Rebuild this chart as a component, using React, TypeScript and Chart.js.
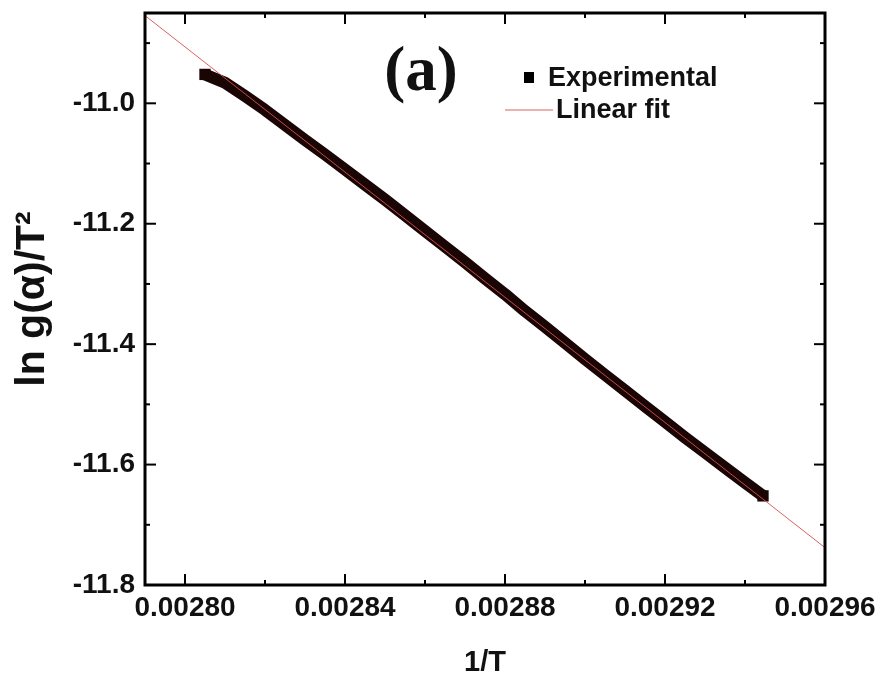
import { useEffect, useRef } from 'react';
import { Chart, registerables } from 'chart.js';
Chart.register(...registerables);

// Experimental data: 1/T and ln g(alpha)/T^2
const X_EXP = [
  0.002805, 0.00281, 0.002815, 0.00282, 0.002825, 0.00283, 0.002835, 0.00284,
  0.002845, 0.00285, 0.002855, 0.00286, 0.002865, 0.00287, 0.002875, 0.00288,
  0.002885, 0.00289, 0.002895, 0.0029, 0.002905, 0.00291, 0.002915, 0.00292,
  0.002925, 0.00293, 0.002935, 0.00294, 0.0029445,
];
const Y_EXP = [
  -10.952, -10.966, -10.988, -11.011, -11.036, -11.061, -11.085, -11.11,
  -11.135, -11.16, -11.186, -11.212, -11.238, -11.264, -11.291, -11.317,
  -11.345, -11.371, -11.398, -11.425, -11.451, -11.477, -11.503, -11.529,
  -11.555, -11.58, -11.605, -11.63, -11.652,
];
// Linear fit end points
const X_FIT = [0.00279, 0.00296];
const Y_FIT = [-10.8543, -11.738];

const X_TICKS = [0.0028, 0.00284, 0.00288, 0.00292, 0.00296];
const X_MINOR = [0.00282, 0.00286, 0.0029, 0.00294];
const Y_TICKS = [-11.8, -11.6, -11.4, -11.2, -11.0];
const Y_MINOR = [-11.7, -11.5, -11.3, -11.1, -10.9];
const X_MIN = 0.00279;
const X_MAX = 0.00296;
const Y_MIN = -11.8;
const Y_MAX = -10.85;

const LEGEND_LABELS = ['Experimental', 'Linear fit'];
const PANEL_LABEL = '(a)';

const BAND = '#1a0505';
const FIT = 'rgba(215,80,80,0.9)';
const SANS = '"Liberation Sans", Arial, sans-serif';

const framePlugin = {
  id: 'frame',
  afterDatasetsDraw(chart: any) {
    const { ctx, chartArea, scales } = chart;
    const { left, right, top, bottom } = chartArea;
    const x = scales.x;
    const y = scales.y;
    ctx.save();
    ctx.strokeStyle = '#000';
    const seg = (x1: number, y1: number, x2: number, y2: number) => {
      ctx.beginPath();
      ctx.moveTo(x1, y1);
      ctx.lineTo(x2, y2);
      ctx.stroke();
    };
    const major = 11;
    const minor = 5;
    ctx.lineWidth = 2;
    X_TICKS.forEach((v) => {
      const p = x.getPixelForValue(v);
      seg(p, bottom, p, bottom - major);
      seg(p, top, p, top + major);
    });
    X_MINOR.forEach((v) => {
      const p = x.getPixelForValue(v);
      seg(p, bottom, p, bottom - minor);
      seg(p, top, p, top + minor);
    });
    Y_TICKS.forEach((v) => {
      const p = y.getPixelForValue(v);
      seg(left, p, left + major, p);
      seg(right, p, right - major, p);
    });
    Y_MINOR.forEach((v) => {
      const p = y.getPixelForValue(v);
      seg(left, p, left + minor, p);
      seg(right, p, right - minor, p);
    });
    ctx.lineWidth = 3;
    ctx.strokeRect(left, top, right - left, bottom - top);

    // panel label
    ctx.fillStyle = '#111';
    ctx.font = 'bold 63px "Liberation Serif", "Times New Roman", serif';
    ctx.textAlign = 'center';
    ctx.textBaseline = 'middle';
    ctx.fillText(PANEL_LABEL, 421, 74);

    // legend
    ctx.fillStyle = '#000';
    ctx.fillRect(524, 72, 10, 11);
    ctx.font = 'bold 27px ' + SANS;
    ctx.textAlign = 'left';
    ctx.fillStyle = '#111';
    ctx.fillText(LEGEND_LABELS[0], 548, 79);
    ctx.strokeStyle = FIT;
    ctx.lineWidth = 1.2;
    seg(505, 110, 553, 110);
    ctx.fillText(LEGEND_LABELS[1], 556, 111);
    ctx.restore();
  },
};

export default function App() {
  const ref = useRef<HTMLCanvasElement | null>(null);
  useEffect(() => {
    if (!ref.current) return;
    const last = X_EXP.length - 1;
    const chart = new Chart(ref.current, {
      type: 'scatter',
      data: {
        datasets: [
          {
            label: LEGEND_LABELS[1],
            data: X_FIT.map((v, i) => ({ x: v, y: Y_FIT[i] })),
            showLine: true,
            borderColor: FIT,
            borderWidth: 1,
            pointRadius: 0,
            order: 1,
          },
          {
            label: LEGEND_LABELS[0],
            data: X_EXP.map((v, i) => ({ x: v, y: Y_EXP[i] })),
            showLine: true,
            borderColor: BAND,
            backgroundColor: BAND,
            borderWidth: 12,
            borderJoinStyle: 'round',
            borderCapStyle: 'butt',
            pointStyle: 'rect',
            pointRadius: (c: any) => (c.dataIndex === 0 || c.dataIndex === last ? 8 : 0),
            pointBorderWidth: 0,
            order: 2,
          },
        ],
      },
      options: {
        responsive: false,
        animation: false,
        events: [],
        layout: { padding: { top: 13, right: 59, bottom: 0, left: 0 } },
        plugins: { legend: { display: false }, tooltip: { enabled: false } },
        scales: {
          x: {
            type: 'linear',
            min: X_MIN,
            max: X_MAX,
            grid: { display: false, drawTicks: false },
            border: { display: false },
            afterBuildTicks: (s: any) => {
              s.ticks = X_TICKS.map((v) => ({ value: v }));
            },
            afterFit: (s: any) => {
              s.height = 95;
              s.paddingLeft = 0;
              s.paddingRight = 0;
            },
            ticks: {
              padding: 6,
              color: '#111',
              font: { family: SANS, size: 28, weight: 'bold' },
              callback: (v: any) => Number(v).toFixed(5),
              maxRotation: 0,
            },
            title: {
              display: true,
              text: '1/T',
              color: '#111',
              font: { family: SANS, size: 29, weight: 'bold' },
              padding: { top: 0, bottom: 0 },
            },
          },
          y: {
            type: 'linear',
            min: Y_MIN,
            max: Y_MAX,
            grid: { display: false, drawTicks: false },
            border: { display: false },
            afterBuildTicks: (s: any) => {
              s.ticks = Y_TICKS.map((v) => ({ value: v }));
            },
            afterFit: (s: any) => {
              s.width = 145;
              s.paddingTop = 0;
              s.paddingBottom = 0;
            },
            ticks: {
              padding: 10,
              color: '#111',
              font: { family: SANS, size: 28, weight: 'bold' },
              callback: (v: any) => Number(v).toFixed(1),
            },
            title: {
              display: true,
              text: 'ln g(α)/T²',
              color: '#111',
              font: { family: SANS, size: 41, weight: 'bold' },
              padding: { top: 8, bottom: 0 },
            },
          },
        },
      },
      plugins: [framePlugin],
    });
    return () => chart.destroy();
  }, []);
  return (
    <div style={{ position: 'absolute', left: 0, top: 0, width: 884, height: 680, background: '#fff' }}>
      <canvas ref={ref} width={884} height={680} />
    </div>
  );
}
